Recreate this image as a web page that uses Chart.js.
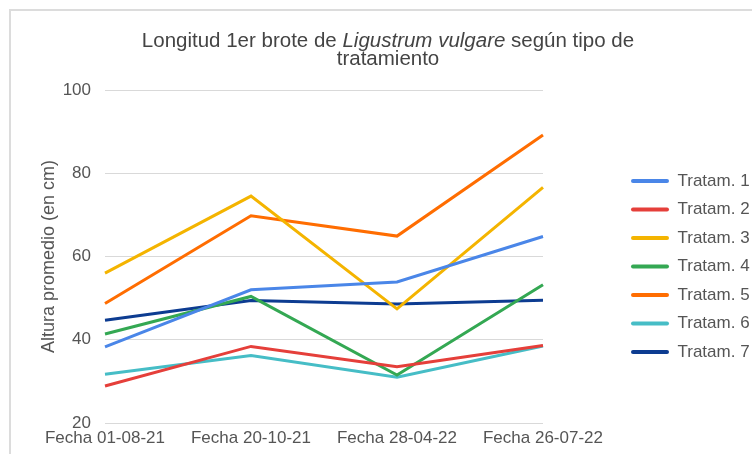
<!DOCTYPE html>
<html>
<head>
<meta charset="utf-8">
<script src="https://cdn.jsdelivr.net/npm/chart.js@4.4.1/dist/chart.umd.min.js"></script>
<style>
  html, body { margin: 0; padding: 0; background: #fff; }
  #wrap { width: 752px; height: 454px; }
</style>
</head>
<body>
<div id="wrap"><canvas id="chart" width="752" height="454"></canvas></div>
<script>
const fechas = ["Fecha 01-08-21", "Fecha 20-10-21", "Fecha 28-04-22", "Fecha 26-07-22"];
const tratam1 = [38.3, 52.0, 53.9, 64.8];
const tratam2 = [28.9, 38.4, 33.5, 38.6];
const tratam3 = [56.0, 74.5, 47.4, 76.6];
const tratam4 = [41.4, 50.4, 31.5, 53.2];
const tratam5 = [48.7, 69.8, 64.9, 89.2];
const tratam6 = [31.7, 36.2, 31.0, 38.5];
const tratam7 = [44.7, 49.4, 48.6, 49.5];
const nombres = ["Tratam. 1", "Tratam. 2", "Tratam. 3", "Tratam. 4", "Tratam. 5", "Tratam. 6", "Tratam. 7"];
const colores = ["#4a86e8", "#e53f3a", "#f4b400", "#34a853", "#ff6d01", "#46bdc6", "#0d3c91"];
const series = [tratam1, tratam2, tratam3, tratam4, tratam5, tratam6, tratam7];

const font = "'Liberation Sans', Arial, sans-serif";

// marco gris y titulo con parte en cursiva
const frameAndTitle = {
  id: "frameAndTitle",
  beforeDraw(chart) {
    const c = chart.ctx;
    c.save();
    c.strokeStyle = "#dcdcdc";
    c.lineWidth = 2;
    c.strokeRect(10, 10, 800, 800);
    c.restore();
  },
  afterDraw(chart) {
    const c = chart.ctx;
    const parts = [
      ["Longitud 1er brote de ", ""],
      ["Ligustrum vulgare", "italic "],
      [" según tipo de", ""],
    ];
    c.save();
    c.fillStyle = "#444";
    c.textBaseline = "alphabetic";
    let total = 0;
    parts.forEach(([t, st]) => {
      c.font = st + "20.5px " + font;
      total += c.measureText(t).width;
    });
    let x = 388 - total / 2;
    parts.forEach(([t, st]) => {
      c.font = st + "20.5px " + font;
      c.fillText(t, x, 47);
      x += c.measureText(t).width;
    });
    c.font = "20.5px " + font;
    c.textAlign = "center";
    c.fillText("tratamiento", 388, 65);
    c.restore();
  },
};

new Chart(document.getElementById("chart"), {
  type: "line",
  data: {
    labels: fechas,
    datasets: series.map((d, i) => ({
      label: nombres[i],
      data: d,
      borderColor: colores[i],
      backgroundColor: colores[i],
      borderWidth: 3,
      pointRadius: 0,
      tension: 0,
    })),
  },
  options: {
    responsive: false,
    animation: false,
    layout: { padding: { top: 90, left: 0, right: 0, bottom: 0 } },
    scales: {
      x: {
        offset: false,
        grid: { display: false, drawTicks: false },
        border: { display: false },
        ticks: { color: "#555", font: { family: font, size: 17 }, padding: 5, maxRotation: 0 },
        afterFit(s) { s.height = 31; },
      },
      y: {
        min: 20,
        max: 100,
        ticks: { stepSize: 20, color: "#555", font: { family: font, size: 17 }, padding: 14 },
        grid: { color: "#d9d9d9", drawTicks: false },
        border: { display: false },
        title: {
          display: true,
          text: "Altura promedio (en cm)",
          color: "#555",
          font: { family: font, size: 18 },
          padding: { top: 38, bottom: 0 },
        },
        afterFit(s) { s.width = 105; },
      },
      hueco: {
        type: "linear",
        position: "right",
        display: true,
        grid: { display: false },
        border: { display: false },
        ticks: { display: false },
        afterFit(s) { s.width = 76.5; },
      },
    },
    plugins: {
      title: { display: false },
      tooltip: { enabled: false },
      legend: {
        position: "right",
        fullSize: false,
        maxWidth: 132.5,
        title: { display: true, text: " ", font: { size: 10 }, padding: 4 },
        labels: {
          color: "#555",
          font: { family: font, size: 17 },
          boxWidth: 38,
          boxHeight: 4,
          padding: 11.5,
          useBorderRadius: true,
          borderRadius: 2,
          generateLabels(chart) {
            return Chart.defaults.plugins.legend.labels.generateLabels(chart).map(it => ({
              ...it,
              lineWidth: 0,
            }));
          },
        },
      },
    },
  },
  plugins: [frameAndTitle],
});
</script>
</body>
</html>
